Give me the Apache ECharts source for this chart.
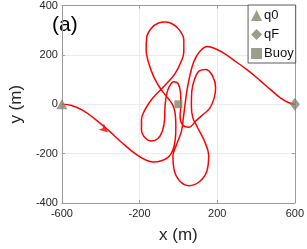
<!DOCTYPE html>
<html><head><meta charset="utf-8">
<script src="https://cdn.jsdelivr.net/npm/echarts@6/dist/echarts.min.js"></script>
<style>html,body{margin:0;padding:0;background:#fff}#c{width:307px;height:249px}</style>
</head><body><div id="c"></div>
<script>
// trajectory x (m)
const pathX = [-600,-550,-492,-434,-361,-289,-221,-168,-129,-91,-52,-28,-16,-13,-16,-28,-52,-81,-105,-129,-153,-166,-163,-139,-105,-66,-28,6,28,28,11,-18,-52,-91,-134,-168,-190,-190,-168,-139,-105,-81,-71,-69,-62,-47,-23,-1,11,13,9,21,55,88,122,161,185,192,176,142,108,84,69,67,74,98,132,156,147,108,55,6,-23,-28,-8,16,26,35,45,59,79,108,151,185,234,292,355,417,475,524,567,600];
// trajectory y (m)
const pathY = [0,-5,-25,-57,-105,-157,-201,-226,-234,-230,-214,-185,-141,-93,-41,-5,23,51,79,115,167,220,272,308,328,333,324,300,260,212,167,123,91,59,23,-17,-61,-105,-139,-149,-139,-105,-61,-13,35,71,91,83,47,-1,-49,-83,-93,-69,-45,-17,27,67,115,141,135,103,51,-5,-53,-93,-145,-210,-270,-314,-330,-310,-262,-210,-161,-109,-53,3,59,115,171,212,234,227,207,175,139,99,59,27,7,0];
const q0 = [-600, 0];
const qF = [600, 0];
const buoy = [0, 0];
const arrowPt = [-362, -114];
const xTicks = [-600, -200, 200, 600];
const yTicks = [-400, -200, 0, 200, 400];

const path = pathX.map((x, i) => [x, pathY[i]]);
const markerColor = '#85846f';
const chart = echarts.init(document.getElementById('c'));
const axisCol = '#9a9a9a';
const labelFont = {color: '#262626', fontSize: 11, fontFamily: 'Liberation Sans, Arial, sans-serif'};
chart.setOption({
  animation: false,
  grid: {left: 47.7, right: 11.3, top: 5, bottom: 44.5},
  xAxis: [{
    type: 'value', min: xTicks[0], max: xTicks[xTicks.length-1], interval: 400,
    name: 'x (m)', nameLocation: 'middle', nameGap: 24,
    nameTextStyle: {color: '#262626', fontSize: 17, fontFamily: 'Liberation Sans, Arial, sans-serif'},
    axisLine: {onZero: false, lineStyle: {color: axisCol}},
    axisTick: {inside: true, length: 3, lineStyle: {color: axisCol}},
    axisLabel: Object.assign({margin: 5}, labelFont),
    splitLine: {show: true, lineStyle: {color: '#ebebeb'}}
  }, {
    type: 'value', position: 'top', min: -600, max: 600, interval: 400,
    axisLine: {show: true, onZero: false, lineStyle: {color: axisCol}},
    axisTick: {inside: true, length: 3, lineStyle: {color: axisCol}},
    axisLabel: {show: false}, splitLine: {show: false}
  }],
  yAxis: [{
    type: 'value', min: yTicks[0], max: yTicks[yTicks.length-1], interval: 200,
    name: 'y (m)', nameLocation: 'middle', nameGap: 31,
    nameTextStyle: {color: '#262626', fontSize: 17, fontFamily: 'Liberation Sans, Arial, sans-serif'},
    axisLine: {onZero: false, lineStyle: {color: axisCol}},
    axisTick: {inside: true, length: 3, lineStyle: {color: axisCol}},
    axisLabel: Object.assign({margin: 4}, labelFont),
    splitLine: {show: true, lineStyle: {color: '#ebebeb'}}
  }, {
    type: 'value', position: 'right', min: -400, max: 400, interval: 200,
    axisLine: {show: true, onZero: false, lineStyle: {color: axisCol}},
    axisTick: {inside: true, length: 3, lineStyle: {color: axisCol}},
    axisLabel: {show: false}, splitLine: {show: false}
  }],
  legend: {
    orient: 'vertical', right: 11.3, top: 5, data: ['q0', 'qF', 'Buoy'],
    backgroundColor: '#fff', borderColor: '#333', borderWidth: 0.8, borderRadius: 0,
    padding: [4, 2, 3, 3], itemGap: 6, itemWidth: 11, itemHeight: 11,
    textStyle: {color: '#111', fontSize: 13, fontFamily: 'Liberation Sans, Arial, sans-serif', padding: [0,0,0,-3]}
  },
  graphic: [{type: 'text', left: 52, top: 15, style: {text: '(a)', fontSize: 21, fill: '#000', font: '21px Liberation Sans, Arial, sans-serif'}}],
  series: [
    {type: 'line', data: path, smooth: 0.4, symbol: 'none', lineStyle: {color: '#ff0000', width: 1.5}, z: 3, silent: true},
    {type: 'scatter', data: [arrowPt], symbol: 'arrow', symbolSize: [6, 9], symbolRotate: -130, itemStyle: {color: '#ff0000'}, z: 4},
    {name: 'q0', type: 'scatter', data: [q0], symbol: 'triangle', symbolSize: [11, 10], itemStyle: {color: markerColor}, z: 5},
    {name: 'qF', type: 'scatter', data: [qF], symbol: 'diamond', symbolSize: [10, 13], itemStyle: {color: markerColor}, z: 5},
    {name: 'Buoy', type: 'scatter', data: [buoy], symbol: 'rect', symbolSize: 8, itemStyle: {color: markerColor}, z: 5}
  ]
});
</script></body></html>
